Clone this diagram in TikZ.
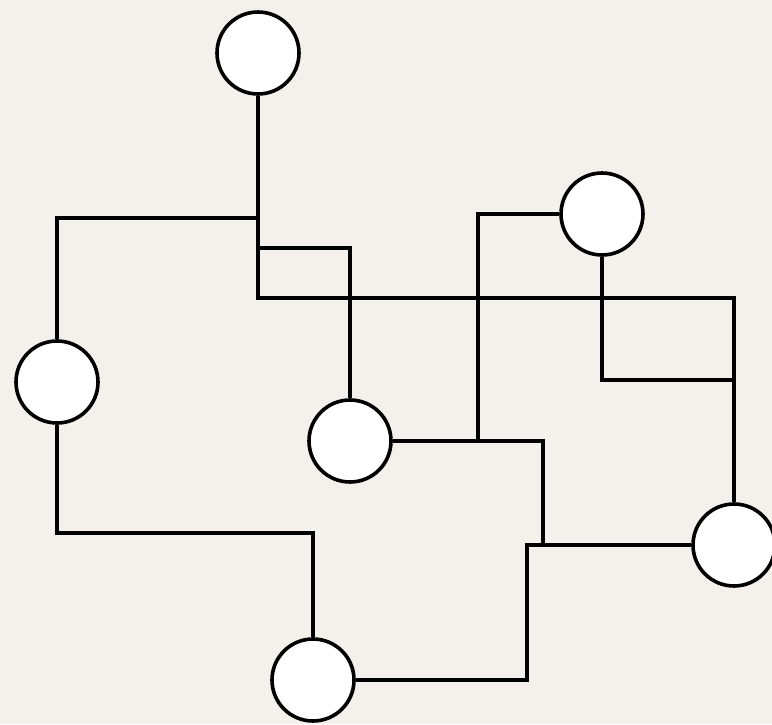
\documentclass[tikz,border=0pt]{standalone}
\begin{document}
\begin{tikzpicture}[x=1pt,y=-1pt,
  nd/.style={circle,draw=black,fill=white,line width=3.6pt,minimum size=82pt,inner sep=0pt},
  wire/.style={line width=3.6pt,line join=miter}]
\fill[fill={rgb,255:red,244;green,241;blue,236}] (0,0) rectangle (772,724);
\useasboundingbox (0,0) rectangle (772,724);
\coordinate (j1) at (258,218);
\coordinate (j2) at (258,248);
\coordinate (j3) at (258,298);
\coordinate (j4) at (734,380);
\coordinate (j5) at (478,441);
\coordinate (j6) at (543,545);
\coordinate (j7) at (527,545);
\coordinate (j8) at (313,533);
\node[nd] (A) at (258,53) {};
\node[nd] (B) at (57,382) {};
\node[nd] (C) at (350,441) {};
\node[nd] (D) at (602,214) {};
\node[nd] (E) at (734,545) {};
\node[nd] (F) at (313,680) {};
\draw[wire] (A.south) -- (j3) -| (E.north);
\draw[wire] (j1) -| (B.north);
\draw[wire] (j2) -| (C.north);
\draw[wire] (D.south) |- (j4);
\draw[wire] (D.west) -| (j5);
\draw[wire] (C.east) -| (j6);
\draw[wire] (E.west) -- (j7) |- (F.east);
\draw[wire] (B.south) |- (j8) -- (F.north);
\end{tikzpicture}
\end{document}
